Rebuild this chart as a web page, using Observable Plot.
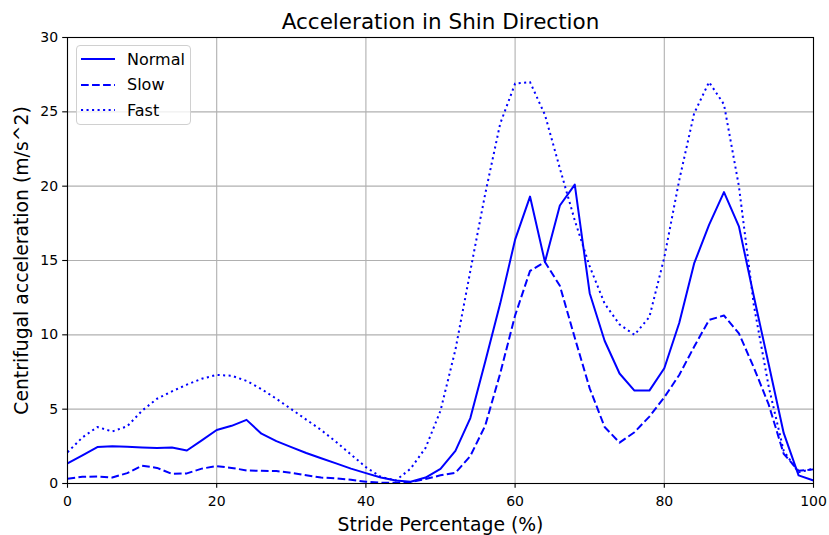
<!DOCTYPE html>
<html>
<head>
<meta charset="utf-8">
<script src="https://cdn.jsdelivr.net/npm/d3@7"></script>
<script src="https://cdn.jsdelivr.net/npm/@observablehq/plot@0.6"></script>
<style>
  html, body { margin: 0; padding: 0; background: white; }
  #wrap { position: relative; width: 829px; height: 535px; font-family: "DejaVu Sans", sans-serif; }
  #legend { position: absolute; left: 76px; top: 45px; width: 115px; height: 80px; border: 1px solid #d0d0d0; border-radius: 4px; background: rgba(255,255,255,0.8); box-sizing: border-box; }
  .row { position: absolute; left: 4px; height: 20px; display: flex; align-items: center; }
  .row span { font-size: 16px; color: #000; margin-left: 12px; }
</style>
</head>
<body>
<div id="wrap"></div>
<script>
const xs = [0,2,4,6,8,10,12,14,16,18,20,22,24,26,28,30,32,34,36,38,40,42,44,46,48,50,52,54,56,58,60,62,64,66,68,70,72,74,76,78,80,82,84,86,88,90,92,94,96,98,100];
const normal = [1.35,1.9,2.45,2.5,2.47,2.42,2.38,2.42,2.22,2.9,3.6,3.88,4.28,3.35,2.85,2.45,2.05,1.7,1.35,1.0,0.7,0.4,0.2,0.12,0.4,0.99,2.2,4.4,8.2,12.1,16.4,19.3,14.9,18.7,20.1,12.8,9.6,7.4,6.25,6.25,7.75,10.8,14.8,17.4,19.6,17.3,12.6,8.0,3.4,0.55,0.2];
const slow = [0.32,0.45,0.47,0.4,0.7,1.2,1.05,0.65,0.68,1.0,1.17,1.05,0.88,0.85,0.84,0.72,0.55,0.4,0.35,0.25,0.12,0.05,0.05,0.1,0.3,0.55,0.72,1.85,3.9,7.4,11.3,14.3,14.9,13.3,9.8,6.4,3.8,2.75,3.45,4.5,5.8,7.3,9.2,11.0,11.3,10.1,7.8,5.3,2.0,0.85,0.95];
const fast = [2.1,3.1,3.8,3.5,3.85,4.9,5.7,6.2,6.65,7.05,7.3,7.25,6.9,6.35,5.7,5.0,4.3,3.6,2.8,1.95,1.1,0.45,0.2,1.0,2.4,4.9,9.0,14.3,19.5,24.2,26.9,27.0,24.8,21.2,17.7,14.6,12.1,10.7,10.0,11.2,15.2,20.4,24.9,27.0,25.5,20.0,12.0,6.5,2.2,0.75,1.0];
const xTicks = [0,20,40,60,80,100];
const yTicks = [0,5,10,15,20,25,30];
const seriesNames = ["Normal","Slow","Fast"];
const title = "Acceleration in Shin Direction";
const xLabel = "Stride Percentage (%)";
const yLabel = "Centrifugal acceleration (m/s^2)";

const blue = "#0000ff";
const dashes = {Normal: null, Slow: "7.7,3.33", Fast: "2.08,3.44"};
const seriesVals = {Normal: normal, Slow: slow, Fast: fast};

const lineMarks = seriesNames.map(name => {
  const data = xs.map((x, i) => ({x, y: seriesVals[name][i]}));
  return Plot.line(data, {x: "x", y: "y", stroke: blue, strokeWidth: 2, strokeDasharray: dashes[name], strokeLinecap: "butt", strokeLinejoin: "round"});
});

const chart = Plot.plot({
  width: 829, height: 535,
  marginLeft: 67, marginRight: 16, marginTop: 37, marginBottom: 52,
  x: {domain: [0, 100]},
  y: {domain: [0, 30]},
  style: {fontFamily: "DejaVu Sans, sans-serif", fontSize: "14px", color: "black", background: "white"},
  marks: [
    Plot.gridX(xTicks, {stroke: "#b0b0b0", strokeOpacity: 1, strokeWidth: 1.1}),
    Plot.gridY(yTicks, {stroke: "#b0b0b0", strokeOpacity: 1, strokeWidth: 1.1}),
    ...lineMarks,
    Plot.frame({stroke: "black", strokeWidth: 1.1}),
    Plot.axisX(xTicks, {tickSize: 4.8, tickPadding: 8, label: null, fontSize: 14, stroke: "black", strokeOpacity: 1, strokeWidth: 1.1}),
    Plot.axisY(yTicks, {tickSize: 4.8, tickPadding: 4.6, label: null, fontSize: 14, stroke: "black", strokeOpacity: 1, strokeWidth: 1.1}),
    Plot.text([xLabel], {text: d => d, frameAnchor: "bottom", lineAnchor: "middle", textAnchor: "middle", dy: 41, fontSize: 18.8, fill: "black"}),
    Plot.text([yLabel], {text: d => d, frameAnchor: "left", lineAnchor: "middle", textAnchor: "middle", dx: -46, rotate: -90, fontSize: 18.8, fill: "black"}),
    Plot.text([title], {text: d => d, frameAnchor: "top", lineAnchor: "middle", textAnchor: "middle", dy: -15, fontSize: 21.5, fill: "black"})
  ]
});

const wrap = document.getElementById("wrap");
wrap.appendChild(chart);

const legend = document.createElement("div");
legend.id = "legend";
seriesNames.forEach((name, i) => {
  const row = document.createElement("div");
  row.className = "row";
  row.style.top = (3 + i * 25.5) + "px";
  const svg = d3.create("svg").attr("width", 34).attr("height", 20);
  svg.append("line").attr("x1", 0).attr("x2", 34).attr("y1", 10).attr("y2", 10)
    .attr("stroke", blue).attr("stroke-width", 2)
    .attr("stroke-dasharray", dashes[name]);
  row.appendChild(svg.node());
  const span = document.createElement("span");
  span.textContent = name;
  row.appendChild(span);
  legend.appendChild(row);
});
wrap.appendChild(legend);
</script>
</body>
</html>
